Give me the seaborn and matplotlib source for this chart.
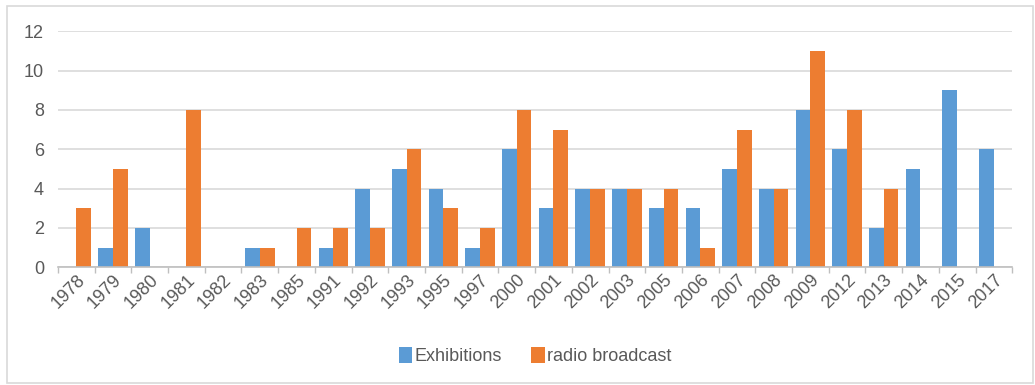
import matplotlib
matplotlib.use("Agg")
import matplotlib.pyplot as plt
from matplotlib.patches import Rectangle
from matplotlib.ticker import FixedLocator
import numpy as np
import pandas as pd
import seaborn as sns

years = ["1978", "1979", "1980", "1981", "1982", "1983", "1985", "1991", "1992",
         "1993", "1995", "1997", "2000", "2001", "2002", "2003", "2005", "2006",
         "2007", "2008", "2009", "2012", "2013", "2014", "2015", "2017"]
exhibitions = [0, 1, 2, 0, 0, 1, 0, 1, 4, 5, 4, 1, 6, 3, 4, 4, 3, 3, 5, 4, 8, 6, 2, 5, 9, 6]
radio = [3, 5, 0, 8, 0, 1, 2, 2, 2, 6, 3, 2, 8, 7, 4, 4, 4, 1, 7, 4, 11, 8, 4, 0, 0, 0]
series_names = ["Exhibitions", "radio broadcast"]
colors = ["#5B9BD5", "#ED7D31"]

df = pd.DataFrame({
    "year": years * 2,
    "count": exhibitions + radio,
    "series": [series_names[0]] * len(years) + [series_names[1]] * len(years),
})

sns.set_theme(style="white")
plt.rcParams["font.family"] = ["Liberation Sans", "DejaVu Sans"]

fig = plt.figure(figsize=(10.35, 3.85), dpi=100)
ax = fig.add_axes([0.056, 0.306, 0.922, 0.613])

sns.barplot(data=df, x="year", y="count", hue="series", order=years,
            hue_order=series_names, palette=colors, width=0.8,
            saturation=1, linewidth=0, ax=ax, legend=True)

ax.set_ylim(0, 12)
ax.set_xlim(-0.5, len(years) - 0.5)
ax.set_yticks(np.arange(0, 13, 2))
ax.yaxis.grid(True, color="#D9D9D9", linewidth=1.2)
ax.set_axisbelow(True)
ax.set_xlabel("")
ax.set_ylabel("")

for side in ["top", "right", "left"]:
    ax.spines[side].set_visible(False)
ax.spines["bottom"].set_color("#BFBFBF")
ax.spines["bottom"].set_linewidth(1.2)

ax.tick_params(axis="y", length=0, labelsize=13, labelcolor="#595959", pad=10)
ax.tick_params(axis="x", which="major", length=0, labelsize=13,
               labelcolor="#595959", pad=3)
plt.setp(ax.get_xticklabels(), rotation=45, ha="right", rotation_mode="anchor")
ax.xaxis.set_minor_locator(FixedLocator(np.arange(-0.5, len(years), 1.0)))
ax.tick_params(axis="x", which="minor", length=4, width=1, color="#BFBFBF",
               bottom=True, direction="out")

handles, labels = ax.get_legend_handles_labels()
ax.legend(handles, labels, loc="center", bbox_to_anchor=(0.5, -0.375),
          ncol=2, frameon=False, fontsize=13, labelcolor="#595959",
          handlelength=0.75, handleheight=1.0, handletextpad=0.15,
          columnspacing=1.6)

fig.patches.append(Rectangle((7 / 1035, 2 / 385), 1026 / 1035, 377 / 385,
                             transform=fig.transFigure, fill=False,
                             edgecolor="#D9D9D9", linewidth=1.2))

fig.savefig("out.png", dpi=100, facecolor="white")
